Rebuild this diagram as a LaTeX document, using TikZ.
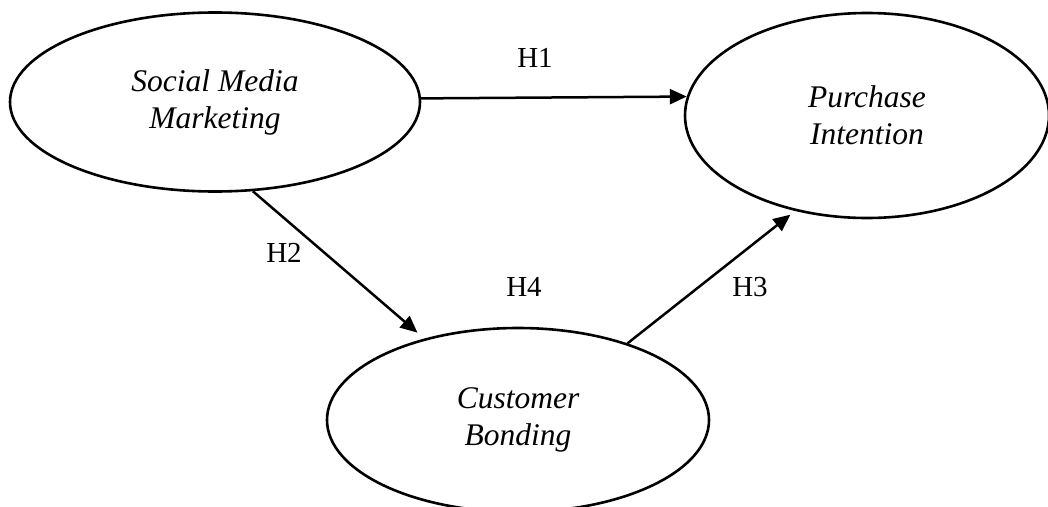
\documentclass[tikz,border=0pt]{standalone}
\usepackage{fontspec}
\setmainfont{Liberation Serif}
\usetikzlibrary{shapes.geometric,arrows.meta}
\begin{document}
\begin{tikzpicture}[x=1pt,y=-1pt,
  construct/.style={ellipse, draw, line width=2.6pt, inner sep=0pt, align=center,
    font=\fontsize{31.5}{37}\selectfont\itshape},
  link/.style={line width=2.5pt, -{Triangle[length=17pt,width=15pt]}},
  hyp/.style={font=\fontsize{29}{34}\selectfont, inner sep=0pt}]
\useasboundingbox (0,0) rectangle (1048,506);
\node[construct, minimum width=410pt, minimum height=179pt] (smm) at (215,102) {Social Media\\Marketing};
\node[construct, minimum width=364pt, minimum height=205pt] (pi) at (867,115.5) {Purchase\\Intention};
\node[construct, minimum width=382pt, minimum height=184pt] (cb) at (518,420) {Customer\\Bonding};
\draw[link] (smm.1.1) -- (pi.174.4);
\draw[link, shorten >=9pt] (smm.-67) -- (cb.139.6);
\draw[link, shorten >=6pt] (cb.35.2) -- (pi.-127);
\node[hyp] (h1) at (535,58) {H1};
\node[hyp] (h2) at (284,253) {H2};
\node[hyp] (h4) at (524,287) {H4};
\node[hyp] (h3) at (750,287) {H3};
\end{tikzpicture}
\end{document}
